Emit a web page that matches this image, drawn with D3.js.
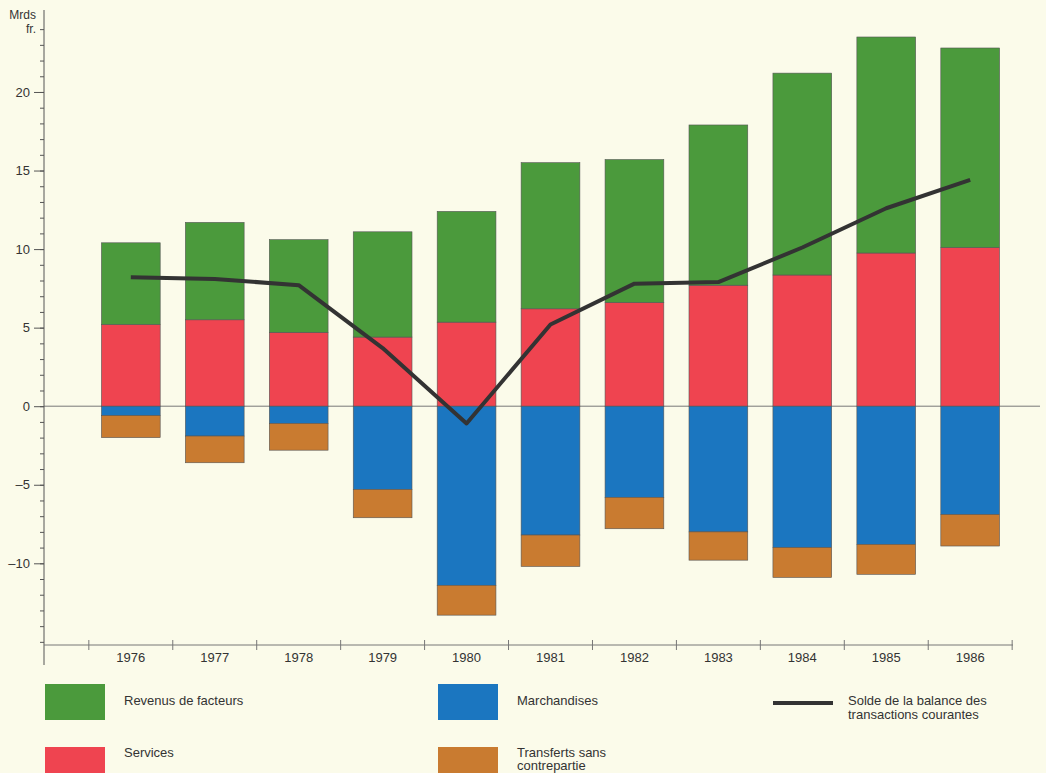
<!DOCTYPE html>
<html><head><meta charset="utf-8">
<script src="https://cdn.jsdelivr.net/npm/d3@7"></script>
<style>body{margin:0;background:#fbfbea;font-family:"Liberation Sans",Arial,sans-serif}</style>
</head><body><svg id="c" width="1046" height="773"></svg>
<script>
// data (Mrds fr.)
var years = ["1976","1977","1978","1979","1980","1981","1982","1983","1984","1985","1986"];
var services = [5.2, 5.5, 4.7, 4.4, 5.35, 6.2, 6.6, 7.7, 8.35, 9.75, 10.1];
var revenus = [5.2, 6.2, 5.9, 6.7, 7.05, 9.3, 9.1, 10.2, 12.85, 13.75, 12.7];
var marchandises = [-0.6, -1.9, -1.1, -5.3, -11.4, -8.2, -5.8, -8.0, -9.0, -8.8, -6.9];
var transferts = [-1.4, -1.7, -1.7, -1.8, -1.9, -2.0, -2.0, -1.8, -1.9, -1.9, -2.0];
var solde = [8.2, 8.1, 7.7, 3.7, -1.1, 5.2, 7.8, 7.9, 10.1, 12.6, 14.4];
var yTicks = [-10, -5, 0, 5, 10, 15, 20];

var col = {rev: "#4b9a3c", srv: "#ef4450", mar: "#1b76c0", tra: "#c97b30"};
var svg = d3.select("#c");
var y = d3.scaleLinear().domain([-15.2, 24.9]).range([645, 15]);
var x = d3.scaleBand().domain(years).range([88, 1013]).paddingInner(0.3).paddingOuter(0.16);

// zero line
svg.append("line").attr("x1", 44).attr("x2", 1040).attr("y1", y(0)).attr("y2", y(0))
  .attr("stroke", "#777").attr("stroke-width", 1);

// stacked bars
var g = svg.append("g");
years.forEach(function(yr, i) {
  var segs = [
    [0, services[i], col.srv],
    [services[i], services[i] + revenus[i], col.rev],
    [marchandises[i], 0, col.mar],
    [marchandises[i] + transferts[i], marchandises[i], col.tra]
  ];
  segs.forEach(function(s) {
    g.append("rect").attr("x", x(yr)).attr("width", x.bandwidth())
      .attr("y", y(s[1])).attr("height", y(s[0]) - y(s[1]))
      .attr("fill", s[2]).attr("stroke", "#555").attr("stroke-width", 0.6);
  });
});

// line
svg.append("path").datum(solde)
  .attr("d", d3.line().x(function(d, i) { return x(years[i]) + x.bandwidth() / 2; }).y(function(d) { return y(d); }))
  .attr("fill", "none").attr("stroke", "#333").attr("stroke-width", 4).attr("stroke-linejoin", "round");

// y axis
svg.append("g").attr("transform", "translate(44,0)")
  .call(d3.axisLeft(y).tickValues(d3.range(-15, 25, 1)).tickSize(4).tickFormat(""))
  .call(function(a) { a.select(".domain").attr("d", "M0,10V665"); a.selectAll("line,path").attr("stroke", "#555"); });
svg.append("g").attr("transform", "translate(44,0)")
  .call(d3.axisLeft(y).tickValues(yTicks).tickSize(10).tickPadding(4)
    .tickFormat(function(d) { return d < 0 ? "\u2013" + Math.abs(d) : d; }))
  .call(function(a) { a.select(".domain").remove(); a.selectAll("line").attr("stroke", "#555");
    a.selectAll("text").attr("font-size", 13).attr("fill", "#333").attr("font-family", "Liberation Sans, Arial"); });
svg.append("text").attr("x", 36).attr("y", 19).attr("text-anchor", "end").attr("font-size", 12).attr("fill", "#333").text("Mrds");
svg.append("text").attr("x", 36).attr("y", 33).attr("text-anchor", "end").attr("font-size", 12).attr("fill", "#333").text("fr.");

// x axis
svg.append("line").attr("x1", 44).attr("x2", 1013).attr("y1", 645).attr("y2", 645).attr("stroke", "#777");
svg.append("g").attr("transform", "translate(0,645)")
  .call(d3.axisBottom(x).tickSize(0).tickPadding(8))
  .call(function(a) { a.select(".domain").remove();
    a.selectAll("text").attr("font-size", 13).attr("fill", "#333").attr("font-family", "Liberation Sans, Arial"); });
years.forEach(function(yr) {
  var xx = x(yr) + x.bandwidth() / 2 + x.step() / 2;
  svg.append("line").attr("x1", xx).attr("x2", xx).attr("y1", 640).attr("y2", 650).attr("stroke", "#777");
});
svg.append("line").attr("x1", x("1976") + x.bandwidth() / 2 - x.step() / 2).attr("x2", x("1976") + x.bandwidth() / 2 - x.step() / 2)
  .attr("y1", 640).attr("y2", 650).attr("stroke", "#777");

// legend
var leg = [
  {t: ["Revenus de facteurs"], c: col.rev, x: 45, y: 684, ty: 705},
  {t: ["Services"], c: col.srv, x: 45, y: 747, ty: 757},
  {t: ["Marchandises"], c: col.mar, x: 438, y: 684, ty: 705},
  {t: ["Transferts sans", "contrepartie"], c: col.tra, x: 438, y: 747, ty: 757}
];
leg.forEach(function(l) {
  svg.append("rect").attr("x", l.x).attr("y", l.y).attr("width", 60).attr("height", 36).attr("fill", l.c);
  l.t.forEach(function(s, k) {
    svg.append("text").attr("x", l.x + 79).attr("y", l.ty + k * 13).attr("font-size", 13).attr("fill", "#333").text(s);
  });
});
svg.append("line").attr("x1", 773).attr("x2", 833).attr("y1", 703).attr("y2", 703).attr("stroke", "#333").attr("stroke-width", 4);
["Solde de la balance des", "transactions courantes"].forEach(function(s, k) {
  svg.append("text").attr("x", 848).attr("y", 705 + k * 14).attr("font-size", 13).attr("fill", "#333").text(s);
});
</script></body></html>
